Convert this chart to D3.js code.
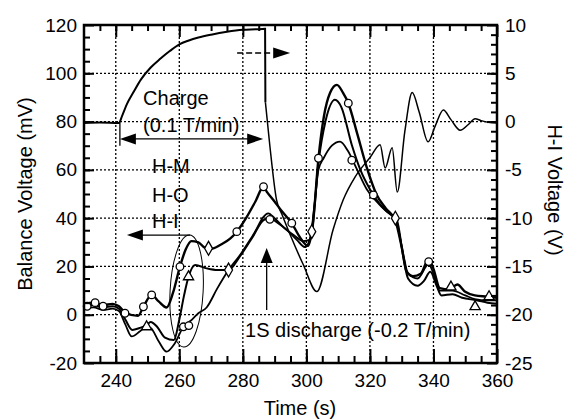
<!DOCTYPE html>
<html lang="en">
<head>
<meta charset="UTF-8">
<title>Balance voltage and H-I voltage</title>
<script src="https://d3js.org/d3.v7.min.js"></script>
<style>
  body { margin: 0; background: #fff; }
  svg { font-family: "Liberation Sans", Arial, sans-serif; }
  .axis path { display: none; }
  .axis line { stroke: #000; stroke-width: 2; }
  .axis text { font-size: 19px; fill: #000; }
  .note { font-size: 20px; fill: #000; }
</style>
</head>
<body>
<div id="chart"></div>
<script>
// tick values
const timeTicks = [240, 260, 280, 300, 320, 340, 360];
const balanceTicks = [-20, 0, 20, 40, 60, 80, 100, 120];
const hiTicks = [-25, -20, -15, -10, -5, 0, 5, 10];
const timeGrid = [240, 260, 280, 300, 320, 340];
const balanceGrid = [0, 20, 40, 60, 80, 100];

// H-I voltage (V, right axis): [time s, voltage]
const hiVoltage = [
  [230, -0.15], [235, -0.1], [241, -0.15], [242, 0.6], [243.5, 1.8], [245.5, 3.0],
  [248, 4.4], [251, 5.6], [254, 6.5], [257, 7.3], [260, 8.0], [263, 8.4], [266, 8.7],
  [270, 9.0], [275, 9.3], [280, 9.5], [284, 9.55], [287, 9.6], [287.1, 2.0],
  [288.5, -2.5], [290.6, -8.1], [292.3, -9.6], [295, -11.8], [299, -14.8], [303.3, -17.6],
  [308.4, -11.2], [311.6, -8.1], [315.4, -5.7], [320.1, -3.7], [323.2, -2.4], [324.8, -4.8],
  [327, -2.7], [328.6, -7.3], [331, -1], [333.3, 3.0], [335.5, 1], [338.3, -2.1],
  [340.5, -0.5], [343.1, 1.2], [345.5, 0.2], [348.4, -0.9], [351, -0.3], [353.1, 0.3],
  [355, 0.1], [357.9, -0.1], [360, -0.15]
];

// balance voltages (mV, left axis)
const balanceHM = [
  [230, 4.5], [233, 5], [236, 4], [239, 4.5], [241, 3.5], [243, 0.8], [247, -0.5],
  [248.7, 3.3], [251.3, 8.2], [253.5, 5.5], [256, 3.0], [258, 9], [260.2, 19.9], [262, 27],
  [263.8, 30.5], [266, 30], [268, 27.8], [270, 27.3], [273, 29], [276, 31.5], [278.1, 34.4],
  [281, 40], [284, 47], [286.5, 53], [287.5, 51], [289.6, 47.5], [292.5, 42.5], [295.4, 37.9],
  [298, 32], [300.5, 28.5], [302, 37], [303.8, 64.8], [305.5, 82], [307.5, 92], [309.6, 95.2],
  [311.5, 92], [313.2, 87.6], [316, 75], [319, 61], [322, 50], [325, 44], [328, 39],
  [330, 28], [331.5, 18], [333.5, 16], [336, 17], [338.5, 23], [340, 19], [342, 11],
  [345, 10.5], [347.5, 12.5], [350, 9.5], [353, 8], [357, 7.5], [360, 7]
];
const balanceHO = [
  [230, 3.5], [233, 4], [236, 3], [239, 3.5], [241, 2.5], [243, -2], [245.2, -6.3],
  [247.5, -5.5], [249.7, -4.3], [251, -3], [253, -5], [255.5, -9.5], [258.3, -10.5],
  [260, -2], [261.5, 8], [262.9, 15.7], [265, 20.6], [268.6, 19.2], [272, 18.5], [275.5, 18.5],
  [279, 24], [283, 32], [286.5, 39.2], [288.5, 40], [291, 38], [294, 35], [297, 31],
  [299.5, 28], [301.7, 34.4], [303.8, 63], [306, 80], [309, 89], [311, 86], [314.3, 70.3],
  [317, 60], [320, 52], [323, 46], [326, 42], [328.5, 39], [330.5, 24], [332, 15], [335, 12],
  [337, 14], [339, 17.8], [341, 12], [342.5, 8], [346, 8.5], [349, 7], [353.6, 6], [357, 5],
  [360, 4.5]
];
const balanceHI = [
  [230, 2.5], [233, 3], [236, 2], [239, 2.5], [241, 1.5], [243, -4], [245, -9], [247.5, -7],
  [249.5, -5], [251, -5.5], [253.5, -11], [256, -15.3], [258.5, -12], [261.3, -5], [264, -2],
  [266, 0.6], [268.6, 3], [272, 11], [275.5, 18.5], [279, 24.5], [283, 32.5], [288, 42],
  [290, 40], [293, 36], [296, 33], [299, 30.5], [301, 31], [302.5, 45], [303.8, 60],
  [305.5, 65], [308, 70], [310.6, 71.7], [313, 68], [316, 60], [319, 52], [322, 47],
  [325, 43], [328, 40], [330.5, 25], [332, 17], [335, 15], [338.5, 21], [340, 17], [342, 10],
  [346, 10], [350, 8], [353, 6.5], [357, 6], [360, 6]
];

// measured points drawn as markers
const circleMarks = [
  [231, 3.5], [233.5, 5], [236, 3.5], [242.9, 0.6], [248.7, 3.3], [251.3, 8.2], [260.2, 19.9],
  [261.3, -5], [263, -4.5], [278.1, 34.4], [286.5, 53], [288.5, 39.5], [295.4, 37.9],
  [303.8, 64.8], [313.2, 87.6], [314.3, 64], [321.1, 49.6], [338.5, 22]
];
const diamondMarks = [[269.2, 27.5], [275.5, 18.5], [301.7, 34.4], [328, 40]];
const triangleMarks = [[249.7, -5], [262.9, 15.7], [345.5, 11.5], [353.1, 3.3], [357.5, 7.5]];

const width = 565, height = 420;
const margin = {top: 25, right: 68, bottom: 57, left: 84};
const innerW = width - margin.left - margin.right;
const innerH = height - margin.top - margin.bottom;

const svg = d3.select("#chart").append("svg")
  .attr("width", width)
  .attr("height", height);
const g = svg.append("g").attr("transform", `translate(${margin.left},${margin.top})`);

const x = d3.scaleLinear().domain([230, 360]).range([0, innerW]);
const y = d3.scaleLinear().domain([-20, 120]).range([innerH, 0]);
const yR = d3.scaleLinear().domain([-25, 10]).range([innerH, 0]);

// dotted grid
g.selectAll("line.vgrid").data(timeGrid).join("line")
  .attr("class", "vgrid")
  .attr("x1", d => x(d)).attr("x2", d => x(d))
  .attr("y1", 0).attr("y2", innerH)
  .attr("stroke", "#000").attr("stroke-width", 1.3).attr("stroke-dasharray", "2,2");
g.selectAll("line.hgrid").data(balanceGrid).join("line")
  .attr("class", "hgrid")
  .attr("x1", 0).attr("x2", innerW)
  .attr("y1", d => y(d)).attr("y2", d => y(d))
  .attr("stroke", "#000").attr("stroke-width", 1.3).attr("stroke-dasharray", "2,2");

// lines
const lineL = d3.line().x(d => x(d[0])).y(d => y(d[1])).curve(d3.curveMonotoneX);
const lineR = d3.line().x(d => x(d[0])).y(d => yR(d[1])).curve(d3.curveMonotoneX);

g.append("path").datum(hiVoltage.filter(d => d[0] <= 287.1)).attr("d", lineR)
  .attr("fill", "none").attr("stroke", "#000").attr("stroke-width", 2);
g.append("path").datum(hiVoltage.filter(d => d[0] >= 287.1)).attr("d", lineR)
  .attr("fill", "none").attr("stroke", "#000").attr("stroke-width", 1.5);

[[balanceHM, 2.4], [balanceHO, 2.0], [balanceHI, 1.8]].forEach(([s, w]) => {
  g.append("path").datum(s).attr("d", lineL)
    .attr("fill", "none").attr("stroke", "#000").attr("stroke-width", w)
    .attr("stroke-linejoin", "round");
});

// ellipse around the early balance signals
g.append("ellipse")
  .attr("cx", x(262.3)).attr("cy", y(9.8))
  .attr("rx", x(267.5) - x(262.3)).attr("ry", y(-13.4) - y(9.8))
  .attr("transform", `rotate(3,${x(262.3)},${y(9.8)})`)
  .attr("fill", "none").attr("stroke", "#000").attr("stroke-width", 1);

// markers
const markStyle = sel => sel.attr("fill", "#fff").attr("stroke", "#000").attr("stroke-width", 1.3);
g.selectAll("circle.mc").data(circleMarks).join("circle")
  .attr("class", "mc")
  .attr("cx", d => x(d[0])).attr("cy", d => y(d[1])).attr("r", 3.8).call(markStyle);
g.selectAll("path.md").data(diamondMarks).join("path")
  .attr("class", "md")
  .attr("d", d3.symbol(d3.symbolDiamond, 55))
  .attr("transform", d => `translate(${x(d[0])},${y(d[1])})`).call(markStyle);
g.selectAll("path.mt").data(triangleMarks).join("path")
  .attr("class", "mt")
  .attr("d", d3.symbol(d3.symbolTriangle, 45))
  .attr("transform", d => `translate(${x(d[0])},${y(d[1])})`).call(markStyle);

// axes with inward ticks
const minus = d => d < 0 ? "-" + Math.abs(d) : String(d);
g.append("g").attr("class", "axis").attr("transform", `translate(0,${innerH})`)
  .call(d3.axisBottom(x).tickValues(timeTicks).tickSize(-14).tickPadding(11));
g.append("g").attr("class", "axis").attr("transform", `translate(0,${innerH})`)
  .call(d3.axisBottom(x).tickValues(d3.range(235, 360, 5)).tickSize(-7).tickFormat(""));
g.append("g").attr("class", "axis")
  .call(d3.axisTop(x).tickValues(timeTicks).tickSize(-12).tickFormat(""));
g.append("g").attr("class", "axis")
  .call(d3.axisTop(x).tickValues(d3.range(235, 360, 5)).tickSize(-6).tickFormat(""));

g.append("g").attr("class", "axis")
  .call(d3.axisLeft(y).tickValues(balanceTicks).tickSize(-10).tickPadding(7).tickFormat(minus));
g.append("g").attr("class", "axis")
  .call(d3.axisLeft(y).tickValues(d3.range(-15, 120, 5)).tickSize(-6).tickFormat(""));

g.append("g").attr("class", "axis").attr("transform", `translate(${innerW},0)`)
  .call(d3.axisRight(yR).tickValues(hiTicks).tickSize(-10).tickPadding(8).tickFormat(minus));
g.append("g").attr("class", "axis").attr("transform", `translate(${innerW},0)`)
  .call(d3.axisRight(yR).tickValues(d3.range(-24, 10, 1)).tickSize(-6).tickFormat(""));

// frame
g.append("rect").attr("width", innerW).attr("height", innerH)
  .attr("fill", "none").attr("stroke", "#000").attr("stroke-width", 2.5);

// arrows
function head(px, py, dir, len = 16, half = 5.5) {
  let p;
  if (dir === "l") p = [[px, py], [px + len, py - half], [px + len, py + half]];
  if (dir === "r") p = [[px, py], [px - len, py - half], [px - len, py + half]];
  if (dir === "u") p = [[px, py], [px - half, py + len], [px + half, py + len]];
  g.append("path").attr("d", "M" + p.join("L") + "Z").attr("fill", "#000");
}
function seg(x1, y1, x2, y2, dash) {
  g.append("line").attr("x1", x1).attr("y1", y1).attr("x2", x2).attr("y2", y2)
    .attr("stroke", "#000").attr("stroke-width", 1.3)
    .attr("stroke-dasharray", dash || null);
}

// charge double arrow
seg(x(241.3), y(79.5), x(241.3), y(70));
seg(x(241.3) + 8, y(72.8), x(286.4) - 8, y(72.8));
head(x(241.3), y(72.8), "l");
head(x(286.4), y(72.8), "r");

// arrow toward right axis
seg(x(278.2), y(108.4), x(289.5), y(108.4), "6,3");
head(x(294.9), y(108.4), "r", 17, 5.5);

// H-I arrow toward left axis
seg(x(243.5) + 8, y(33), x(263.4), y(33));
head(x(243.5), y(33), "l");

// discharge arrow
seg(x(287.5), y(2), x(287.5), y(27.6) + 8);
head(x(287.5), y(27.6), "u", 15, 6);

// annotations
const note = (t, v, s) => g.append("text").attr("class", "note")
  .attr("x", x(t)).attr("y", y(v)).text(s);
note(248.6, 86.9, "Charge");
note(248.6, 75.7, "(0.1 T/min)");
note(251.4, 58.7, "H-M");
note(251.4, 46.7, "H-O");
note(251.4, 35.9, "H-I");
note(280.7, -9.2, "1S discharge (-0.2 T/min)");

// axis titles
svg.append("text").attr("class", "note")
  .attr("transform", "translate(32,194) rotate(-90)")
  .attr("text-anchor", "middle").text("Balance Voltage (mV)");
svg.append("text").attr("class", "note")
  .attr("transform", "translate(548,190) rotate(90)")
  .attr("text-anchor", "middle").text("H-I Voltage (V)");
svg.append("text").attr("class", "note")
  .attr("x", 300).attr("y", 415)
  .attr("text-anchor", "middle").text("Time (s)");
</script>
</body>
</html>
